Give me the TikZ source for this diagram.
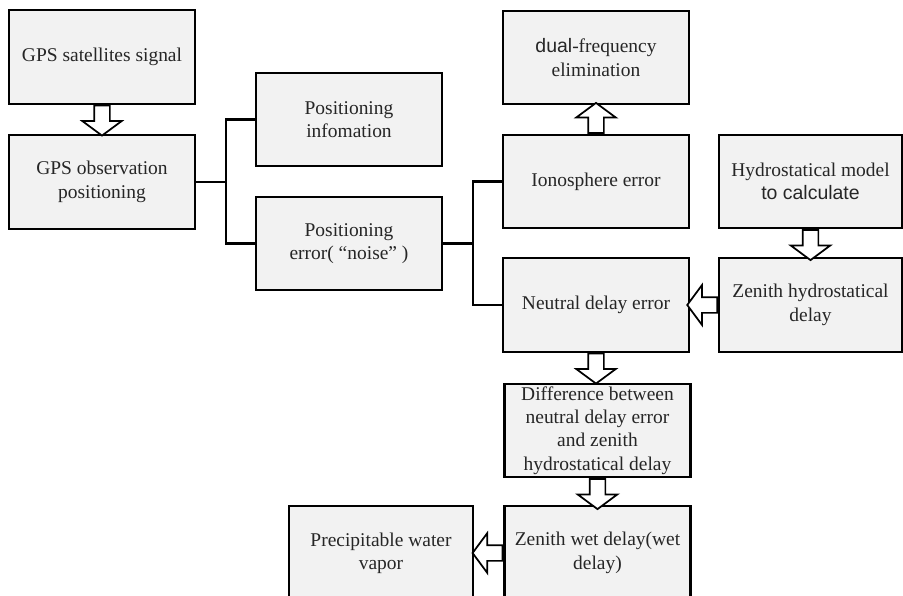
\documentclass[tikz,border=0pt]{standalone}
\usepackage{fontspec}
\setmainfont{Liberation Serif}
\setsansfont{Liberation Sans}
\usetikzlibrary{shapes.arrows}
\definecolor{boxgray}{HTML}{F2F2F2}
\tikzset{box/.style={draw, line width=1.6pt, fill=boxgray, text=black!85, minimum width=139.5pt, minimum height=70pt, inner sep=1pt, align=center, font=\fontsize{14.6}{17.5}\selectfont}}
\tikzset{link/.style={line width=1.6pt}}
\tikzset{harrow/.style={single arrow, draw, fill=white, line width=1.3pt, inner sep=5.25pt, single arrow head extend=9pt, single arrow tip angle=107, minimum height=22.5pt, anchor=tail}}

\begin{document}
\begin{tikzpicture}[x=0.75pt, y=-0.75pt]
		\clip (0,0) rectangle (903,596);
		% Boxes
		\node[box] (sat) at (102,57) {GPS satellites signal};
		\node[box] (obs) at (102,182) {GPS observation\\positioning};
		\node[box] (info) at (349,119.5) {Positioning\\infomation};
		\node[box] (err) at (349,243.5) {Positioning\\error(\ “noise”\ )};
		\node[box] (dual) at (596,57.5) {\sffamily dual\rmfamily-frequency\\elimination};
		\node[box] (iono) at (596,181.5) {Ionosphere error};
		\node[box, minimum width=137pt] (hydro) at (810.5,181.5) {Hydrostatical model\\\sffamily to calculate};
		\node[box] (neutral) at (596,305) {Neutral delay error};
		\node[box, minimum width=137pt] (zen) at (810.5,305) {Zenith hydrostatical\\delay};
		\node[box] (diff) at (597.5,430.5) {Difference between\\neutral delay error\\and zenith\\hydrostatical delay};
		\node[box] (wet) at (597.5,553) {Zenith wet delay(wet\\delay)};
		\node[box, minimum width=138pt] (pwv) at (381,553) {Precipitable water\\vapor};

		% Links
		\draw[link] (obs.east) -- ++(30,0) coordinate (j1);
		\draw[link] (info.west) -| (j1) |- (err.west);
		\draw[link] (err.east) -- ++(30,0) coordinate (j2);
		\draw[link] (iono.west) -| (j2) |- (neutral.west);

		% Block arrows
		\node[harrow, shape border rotate=270] (a1) at (sat.south) {};
		\node[harrow, shape border rotate=90] (a2) at (iono.north) {};
		\node[harrow, shape border rotate=270] (a3) at (hydro.south) {};
		\node[harrow, shape border rotate=180] (a4) at (zen.west) {};
		\node[harrow, shape border rotate=270] (a5) at (neutral.south) {};
		\node[harrow, shape border rotate=270] (a6) at (diff.south) {};
		\node[harrow, shape border rotate=180] (a7) at (wet.west) {};
\end{tikzpicture}
\end{document}
